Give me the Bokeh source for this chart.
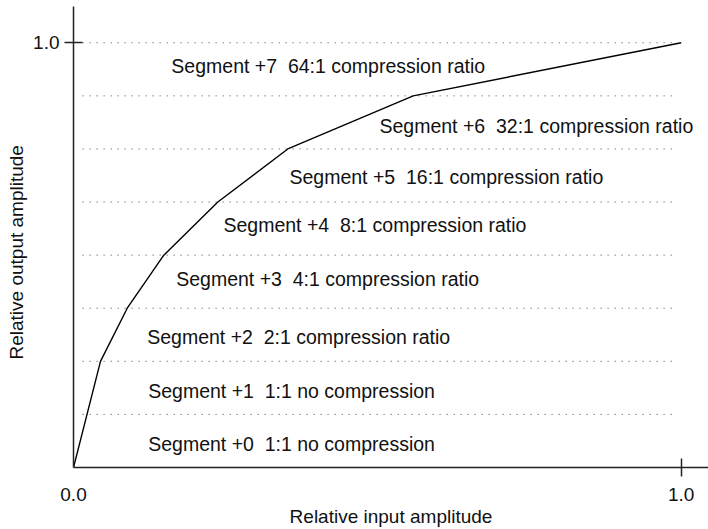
from bokeh.plotting import figure
from bokeh.models import FixedTicker, NumeralTickFormatter, Title, ColumnDataSource
from bokeh.core.properties import value
from bokeh.embed import file_html
from bokeh.resources import INLINE

# ---- data ----
input_amp = [0.0, 0.0444, 0.0884, 0.1486, 0.2375, 0.3526, 0.559, 1.0]
output_amp = [0.0, 0.25, 0.375, 0.5, 0.625, 0.75, 0.875, 1.0]
segment_levels = [0.125, 0.25, 0.375, 0.5, 0.625, 0.75, 0.875, 1.0]
segment_names = ["Segment +0", "Segment +1", "Segment +2", "Segment +3",
                 "Segment +4", "Segment +5", "Segment +6", "Segment +7"]
segment_ratios = ["1:1 no compression", "1:1 no compression", "2:1 compression ratio",
                  "4:1 compression ratio", "8:1 compression ratio", "16:1 compression ratio",
                  "32:1 compression ratio", "64:1 compression ratio"]
x_tick_labels = [0.0, 1.0]
x_tick_marks = [1.0]
y_ticks = [1.0]
x_title = "Relative input amplitude"
y_title = "Relative output amplitude"

# ---- layout (label placement) ----
label_x = [0.1229, 0.1229, 0.1213, 0.169, 0.2468, 0.3554, 0.5035, 0.161]
label_dy_px = [2.6, 2.7, 2.3, -2.8, -4.0, 2.0, 3.3, -3.3]  # + = down
PX_PER_Y = 427.5

FONT = "Liberation Sans"
FS = "19.5px"
FS_AX = "19px"
INK = "#111111"

p = figure(width=708, height=529, x_range=(0, 1.0449), y_range=(0, 1.0854),
           output_backend="svg", toolbar_location=None,
           min_border_left=73, min_border_right=0, min_border_top=6, min_border_bottom=59)
p.outline_line_color = None
p.grid.visible = False
p.background_fill_color = "white"
p.border_fill_color = "white"

for ax in (p.xaxis[0], p.yaxis[0]):
    ax.axis_line_width = 1.5
    ax.axis_line_color = "#222222"
    ax.major_tick_line_width = 1.5
    ax.major_tick_line_color = "#222222"
    ax.minor_tick_line_width = 1.5
    ax.minor_tick_line_color = "#222222"
    ax.major_label_text_font = FONT
    ax.major_label_text_font_size = FS_AX
    ax.major_label_text_color = INK
    ax.formatter = NumeralTickFormatter(format="0.0")

# x axis: labels at 0.0 and 1.0, a crossing tick mark only at 1.0
xa = p.xaxis[0]
xa.ticker = FixedTicker(ticks=x_tick_labels, minor_ticks=x_tick_marks)
xa.major_tick_line_color = None
xa.major_tick_in = 0
xa.major_tick_out = 0
xa.minor_tick_in = 9
xa.minor_tick_out = 9
xa.major_label_standoff = 11
xa.axis_label = x_title
xa.axis_label_text_font = FONT
xa.axis_label_text_font_size = FS_AX
xa.axis_label_text_font_style = "normal"
xa.axis_label_text_color = INK
xa.axis_label_standoff = 2

ya = p.yaxis[0]
ya.ticker = FixedTicker(ticks=y_ticks)
ya.major_tick_in = 9
ya.major_tick_out = 9
ya.minor_tick_line_color = None
ya.major_label_standoff = 5

p.add_layout(Title(text=y_title, align="left", offset=108, vertical_align="middle",
                   standoff=5, text_font=FONT, text_font_size=FS_AX,
                   text_font_style="normal", text_color=INK), "left")

# dotted level lines
n = len(segment_levels)
p.segment(x0=[0.015] * n, y0=segment_levels, x1=[0.99] * n, y1=segment_levels,
          line_color="#444444", line_width=1, line_dash="1 6")

# compression curve
p.line(input_amp, output_amp, line_color="black", line_width=1.4)

# segment labels (double gap kept with a no-break space)
texts = [f"{a} \u00a0{b}" for a, b in zip(segment_names, segment_ratios)]
ys = [(i + 0.5) / len(segment_names) - label_dy_px[i] / PX_PER_Y for i in range(len(texts))]
src = ColumnDataSource(dict(x=label_x, y=ys, t=texts))
p.text(x="x", y="y", text="t", source=src, text_font=value(FONT), text_font_size=FS,
       text_color=INK, text_align="left", text_baseline="middle")

open("out.html", "w").write(file_html(p, INLINE))
